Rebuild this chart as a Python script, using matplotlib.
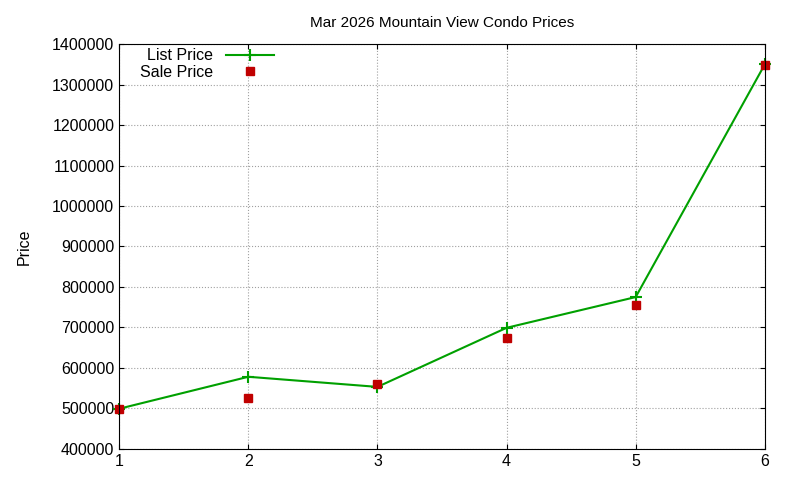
import matplotlib
matplotlib.use("Agg")
import matplotlib.pyplot as plt

x = [1, 2, 3, 4, 5, 6]
list_price = [499000, 578000, 553000, 699000, 775000, 1350000]
sale_price = [499000, 526000, 560000, 674000, 755000, 1348000]
yticks = list(range(400000, 1400001, 100000))

plt.rcParams['font.family'] = ['Liberation Sans', 'DejaVu Sans']
fig = plt.figure(figsize=(8, 4.8), dpi=100)
ax = fig.add_axes([0.149, 0.065, 0.807, 0.843])
ax.plot(x, list_price, color='#00a000', lw=1.5, marker='+', ms=8, mew=1.5, label='List Price', clip_on=False)
ax.plot(x, sale_price, ls='none', marker='s', color='#c00000', ms=6, label='Sale Price', clip_on=False)
ax.set_xlim(1, 6)
ax.set_ylim(400000, 1400000)
ax.set_xticks(x)
ax.set_yticks(yticks)
ax.set_yticklabels([str(v) for v in yticks])
ax.grid(True, color='#a0a0a0', ls=':', lw=0.8)
ax.tick_params(direction='in', labelsize=11.5, top=True, right=True)
ax.set_title('Mar 2026 Mountain View Condo Prices', fontsize=11, pad=12)
ax.set_ylabel('Price', fontsize=11.5)
ax.yaxis.set_label_coords(-0.135, 0.5)
leg = ax.legend(loc='upper left', frameon=False, fontsize=11.5, markerfirst=False,
                bbox_to_anchor=(0.01, 1.025), handlelength=3, labelspacing=0.1)
fig.savefig('out.png')
